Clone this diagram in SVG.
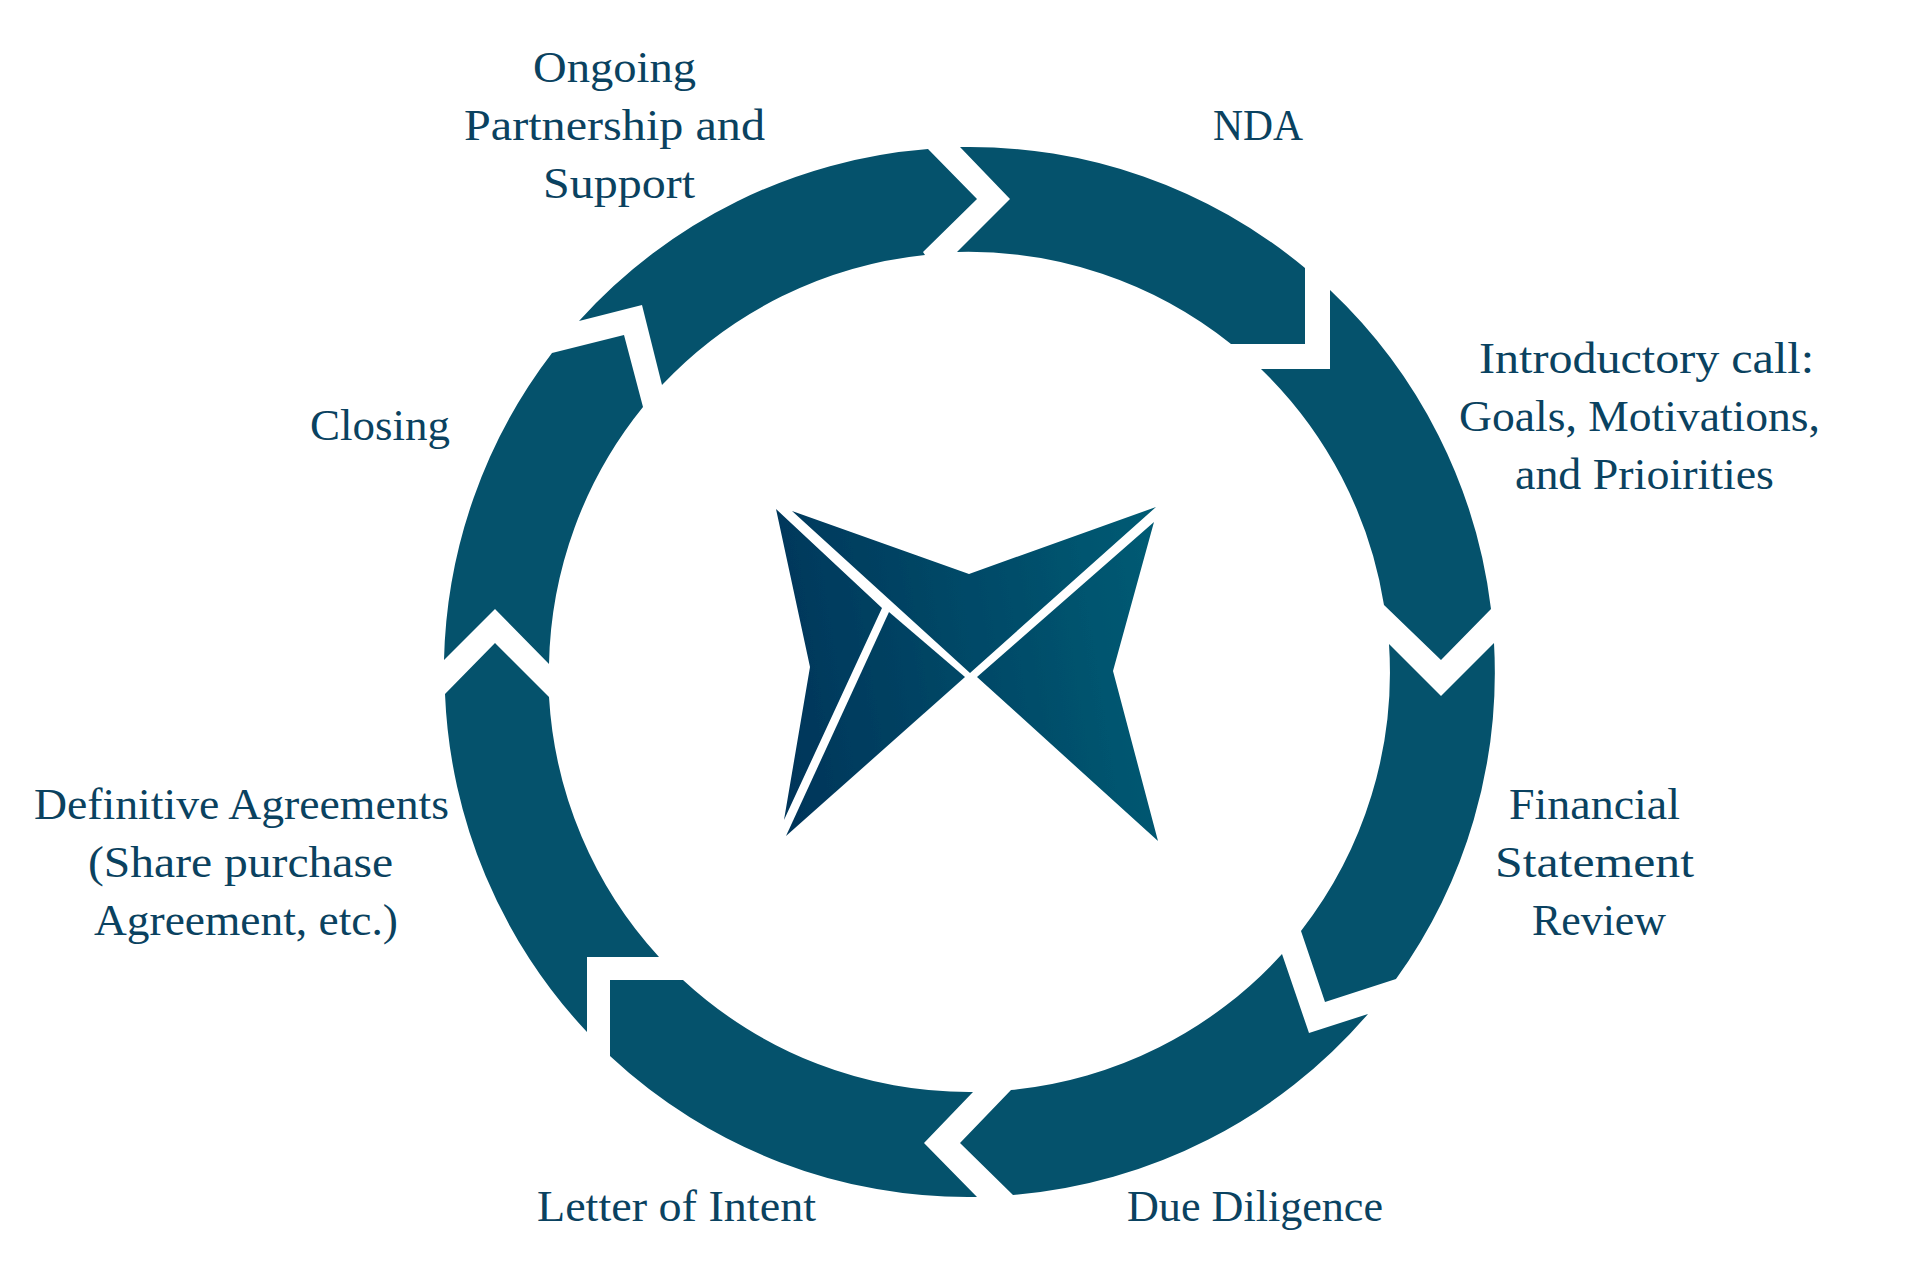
<svg xmlns="http://www.w3.org/2000/svg" width="1920" height="1280" viewBox="0 0 1920 1280">
<style>
.seg{fill:#05526c}
.lab{font-family:"Liberation Serif","Times New Roman",serif;font-size:44px;fill:#0a4260;text-anchor:start}
</style>
<defs>
<linearGradient id="logoGrad" gradientUnits="userSpaceOnUse" x1="777" y1="680" x2="1155" y2="620">
<stop offset="0" stop-color="#00365a"/>
<stop offset="1" stop-color="#045a73"/>
</linearGradient>
<filter id="soft" x="-5%" y="-5%" width="110%" height="110%"><feGaussianBlur stdDeviation="0.7"/></filter>
</defs>
<rect width="1920" height="1280" fill="#ffffff"/>
<g id="connectors"/>
<g id="node-ongoing">
<path class="seg" d="M579 321L642 305L662 385A421 421 0 0 1 925 255L923 252L977 199L928 149A525 525 0 0 0 579 321Z"/>
<text class="lab" x="533" y="82" textLength="163" lengthAdjust="spacingAndGlyphs">Ongoing</text>
<text class="lab" x="464" y="140" textLength="301" lengthAdjust="spacingAndGlyphs">Partnership and</text>
<text class="lab" x="543" y="198" textLength="152" lengthAdjust="spacingAndGlyphs">Support</text>
</g>
<g id="node-nda">
<path class="seg" d="M960 147L1010 199L957 252A421 421 0 0 1 1231 344L1305 344L1305 268A525 525 0 0 0 960 147Z"/>
<text class="lab" x="1213" y="140" textLength="90" lengthAdjust="spacingAndGlyphs">NDA</text>
</g>
<g id="node-intro">
<path class="seg" d="M1330 290L1330 369L1261 369A421 421 0 0 1 1384 605L1441 660L1491 609A525 525 0 0 0 1330 290Z"/>
<text class="lab" x="1479" y="373" textLength="335" lengthAdjust="spacingAndGlyphs">Introductory call:</text>
<text class="lab" x="1459" y="431" textLength="361" lengthAdjust="spacingAndGlyphs">Goals, Motivations,</text>
<text class="lab" x="1515" y="489" textLength="259" lengthAdjust="spacingAndGlyphs">and Prioirities</text>
</g>
<g id="node-financial">
<path class="seg" d="M1389 644L1441 696L1494 643A525 525 0 0 1 1396 979L1325 1002L1301 931A421 421 0 0 0 1389 644Z"/>
<text class="lab" x="1509" y="819" textLength="171" lengthAdjust="spacingAndGlyphs">Financial</text>
<text class="lab" x="1495" y="877" textLength="199" lengthAdjust="spacingAndGlyphs">Statement</text>
<text class="lab" x="1532" y="935" textLength="134" lengthAdjust="spacingAndGlyphs">Review</text>
</g>
<g id="node-due">
<path class="seg" d="M1282 954L1309 1033L1368 1014A525 525 0 0 1 1013 1195L960 1143L1011 1090A421 421 0 0 0 1282 954Z"/>
<text class="lab" x="1127" y="1221" textLength="256" lengthAdjust="spacingAndGlyphs">Due Diligence</text>
</g>
<g id="node-loi">
<path class="seg" d="M973 1092L924 1143L977 1197A525 525 0 0 1 610 1056L610 980L683 980A421 421 0 0 0 973 1092Z"/>
<text class="lab" x="537" y="1221" textLength="279" lengthAdjust="spacingAndGlyphs">Letter of Intent</text>
</g>
<g id="node-definitive">
<path class="seg" d="M659 957L587 957L587 1032A525 525 0 0 1 445 694L495 643L549 697A421 421 0 0 0 659 957Z"/>
<text class="lab" x="34" y="819" textLength="415" lengthAdjust="spacingAndGlyphs">Definitive Agreements</text>
<text class="lab" x="88" y="877" textLength="305" lengthAdjust="spacingAndGlyphs">(Share purchase</text>
<text class="lab" x="94" y="935" textLength="304" lengthAdjust="spacingAndGlyphs">Agreement, etc.)</text>
</g>
<g id="node-closing">
<path class="seg" d="M444 660A525 525 0 0 1 552 353L624 335L643 407A421 421 0 0 0 549 664L495 609Z"/>
<text class="lab" x="310" y="440" textLength="140" lengthAdjust="spacingAndGlyphs">Closing</text>
</g>
<g id="node-logo" fill="url(#logoGrad)" filter="url(#soft)">
<polygon points="776,509 882,608 784,820 810,667"/>
<polygon points="889,612 965,677 786,836"/>
<polygon points="792,511 969,574 1156,507 970,673"/>
<polygon points="1154,522 1113,671 1158,841 977,677"/>
</g>
</svg>
